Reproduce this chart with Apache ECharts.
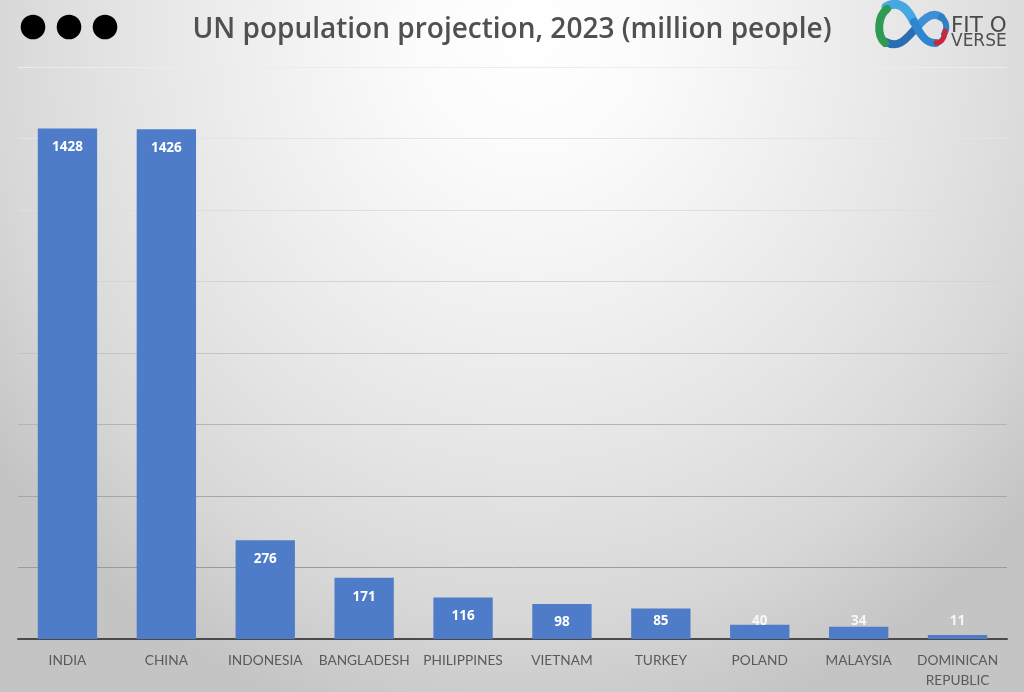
<!DOCTYPE html>
<html>
<head>
<meta charset="utf-8">
<style>
html,body{margin:0;padding:0;background:#ccc}
#c{width:1024px;height:692px;background:radial-gradient(ellipse 660px 720px at 530px 30px,#ffffff 0%,#fbfbfb 18%,#f0f0f0 40%,#e4e4e4 62%,#d7d7d7 82%,#c4c4c4 100%)}
</style>
<script src="https://cdn.jsdelivr.net/npm/echarts@6/dist/echarts.min.js"></script>
</head>
<body>
<div id="c"></div>
<script>
var categories = ['INDIA','CHINA','INDONESIA','BANGLADESH','PHILIPPINES','VIETNAM','TURKEY','POLAND','MALAYSIA','DOMINICAN\nREPUBLIC'];
var values = [1428,1426,276,171,116,98,85,40,34,11];
var titleText = 'UN population projection, 2023 (million people)';

var FONT = '"Open Sans", sans-serif';
var chart = echarts.init(document.getElementById('c'), null, {renderer:'canvas'});

// The labels of the shortest bars are held on one line just above the axis.
var floatingLabelDistance = {40:-3, 34:-1, 11:7};
var tightInsideDistance = {98:11, 85:6};
var seriesData = values.map(function (v) {
  if (floatingLabelDistance[v] !== undefined) {
    return {value:v, label:{position:'top', distance:floatingLabelDistance[v], color:'rgba(255,255,255,0.85)'}};
  }
  if (tightInsideDistance[v] !== undefined) {
    return {value:v, label:{distance:tightInsideDistance[v]}};
  }
  return v;
});

var dots = [33,69,105].map(function (x) {
  return {type:'circle', shape:{cx:x, cy:27, r:12.3}, style:{fill:'#000'}, z:10};
});

function curve(x1,y1,c1x,c1y,c2x,c2y,x2,y2,color,w,z){
  return {type:'bezierCurve', shape:{x1:x1,y1:y1,cpx1:c1x,cpy1:c1y,cpx2:c2x,cpy2:c2y,x2:x2,y2:y2},
    style:{fill:'none', stroke:color, lineWidth:w, lineCap:'round'}, z:z||10};
}
var logo = [
  curve(886,42,900,50,908,36,918,26,'#2a6db4',8,10),
  curve(918,26,926,16,934,12,941,17,'#3f8fd6',8,10),
  curve(941,17,948,22,947,30,944,34,'#2f7fc4',6,10),
  curve(886,7,900,-1,908,10,914,22,'#46a8e2',9,11),
  curve(914,22,920,34,926,44,936,43,'#2f86d0',8,11),
  curve(887,9,878,16,876,34,885,43,'#2e9a53',8,12),
  curve(936,43,941,43,945,38,945,31,'#c8283c',5,12),
  {type:'text', style:{x:951, y:15, text:'FIT O', font:'400 21.5px "DejaVu Sans", sans-serif', fill:'#4a4a4a'}, z:12},
  {type:'text', style:{x:951, y:33, text:'VERSE', font:'400 17px "DejaVu Sans", sans-serif', fill:'#4f4f4f'}, z:12}
];

chart.setOption({
  animation:false,
  backgroundColor:'transparent',
  title:{
    text:titleText, left:'center', top:11,
    textStyle:{fontFamily:FONT, fontSize:28, fontWeight:600, color:'#505050'}
  },
  grid:{left:18, right:17, top:67, bottom:53, containLabel:false, outerBoundsMode:'none'},
  xAxis:{
    type:'category', data:categories,
    axisTick:{show:false},
    axisLine:{lineStyle:{color:'#4a4a4a', width:2}},
    axisLabel:{fontFamily:'Lato, sans-serif', fontSize:13.7, color:'#5a5a5a', margin:12, lineHeight:20, interval:0}
  },
  yAxis:{
    type:'value', min:0, max:1600, interval:200,
    axisLine:{show:false}, axisTick:{show:false}, axisLabel:{show:false},
    splitLine:{lineStyle:{color:['#555','#9a9a9a','#a6a6a6','#b4b4b4','#c4c4c4','#d4d4d4','#dedede','#e4e4e4','#ececec'], width:1}}
  },
  series:[{
    type:'bar', data:seriesData, barCategoryGap:'40%',
    itemStyle:{color:'#4f7cc8'},
    label:{show:true, position:'insideTop', distance:12, color:'#fff', fontFamily:FONT, fontSize:13.5, fontWeight:700}
  }],
  graphic:dots.concat(logo)
});
</script>
</body>
</html>
